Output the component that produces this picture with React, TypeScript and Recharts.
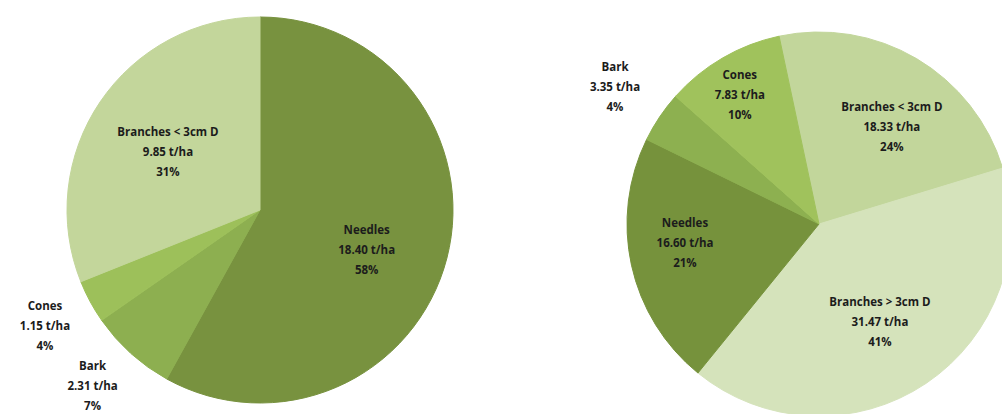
import React from 'react';
import { PieChart, Pie, Cell } from 'recharts';

// left: stand composition (t/ha)
const leftNames = ['Needles', 'Bark', 'Cones', 'Branches < 3cm D'];
const leftValues = [18.4, 2.31, 1.15, 9.85];
const leftPercents = ['58%', '7%', '4%', '31%'];

// right
const rightNames = ['Branches < 3cm D', 'Branches > 3cm D', 'Needles', 'Bark', 'Cones'];
const rightValues = [18.33, 31.47, 16.6, 3.35, 7.83];
const rightPercents = ['24%', '41%', '21%', '4%', '10%'];

const leftColors = ['#78923f', '#8daf50', '#9dc05a', '#c3d69b'];
const rightColors = ['#c2d69b', '#d5e3bb', '#76923c', '#8db050', '#a0c25c'];

// label distance (fraction of radius) and angle nudge (deg, clockwise)
const leftLabelRadius = [0.59, 1.26, 1.266, 0.564];
const leftLabelShift = [6, 1.5, 0, -1.8];
const rightLabelRadius = [0.63, 0.6, 0.705, 1.28, 0.79];
const rightLabelShift = [6.5, 2, 4.3, 0, -1.3];

const leftData = leftNames.map((name, i) => ({ name, value: leftValues[i], pct: leftPercents[i] }));
const rightData = rightNames.map((name, i) => ({ name, value: rightValues[i], pct: rightPercents[i] }));

const RAD = Math.PI / 180;

const makeLabel = (radii: number[], shifts: number[]) => (props: any) => {
  const { cx, cy, midAngle, outerRadius, index, payload } = props;
  const r = outerRadius * radii[index];
  const a = (midAngle - shifts[index]) * RAD;
  const x = cx + r * Math.cos(-a);
  const y = cy + r * Math.sin(-a);
  const d = payload.payload ?? payload;
  return (
    <text
      x={x}
      y={y}
      textAnchor="middle"
      fill="#1c1c1c"
      fontSize={11.5}
      fontWeight="bold"
      fontFamily="'Open Sans', sans-serif"
    >
      <tspan x={x} dy={-16}>{d.name}</tspan>
      <tspan x={x} dy={20}>{d.value.toFixed(2)} t/ha</tspan>
      <tspan x={x} dy={20}>{d.pct}</tspan>
    </text>
  );
};

const App: React.FC = () => {
  return (
    <div style={{ position: 'absolute', left: 0, top: 0, width: 1002, height: 414, background: '#fff' }}>
      <PieChart width={1002} height={414}>
        <Pie
          data={leftData}
          dataKey="value"
          cx={255}
          cy={205}
          outerRadius={193}
          startAngle={90}
          endAngle={-270}
          label={makeLabel(leftLabelRadius, leftLabelShift)}
          labelLine={false}
          isAnimationActive={false}
        >
          {leftData.map((d, i) => (
            <Cell key={d.name} fill={leftColors[i]} stroke={leftColors[i]} />
          ))}
        </Pie>
        <Pie
          data={rightData}
          dataKey="value"
          cx={814}
          cy={219}
          outerRadius={192}
          startAngle={102}
          endAngle={-258}
          label={makeLabel(rightLabelRadius, rightLabelShift)}
          labelLine={false}
          isAnimationActive={false}
        >
          {rightData.map((d, i) => (
            <Cell key={d.name} fill={rightColors[i]} stroke={rightColors[i]} />
          ))}
        </Pie>
      </PieChart>
    </div>
  );
};

export default App;
